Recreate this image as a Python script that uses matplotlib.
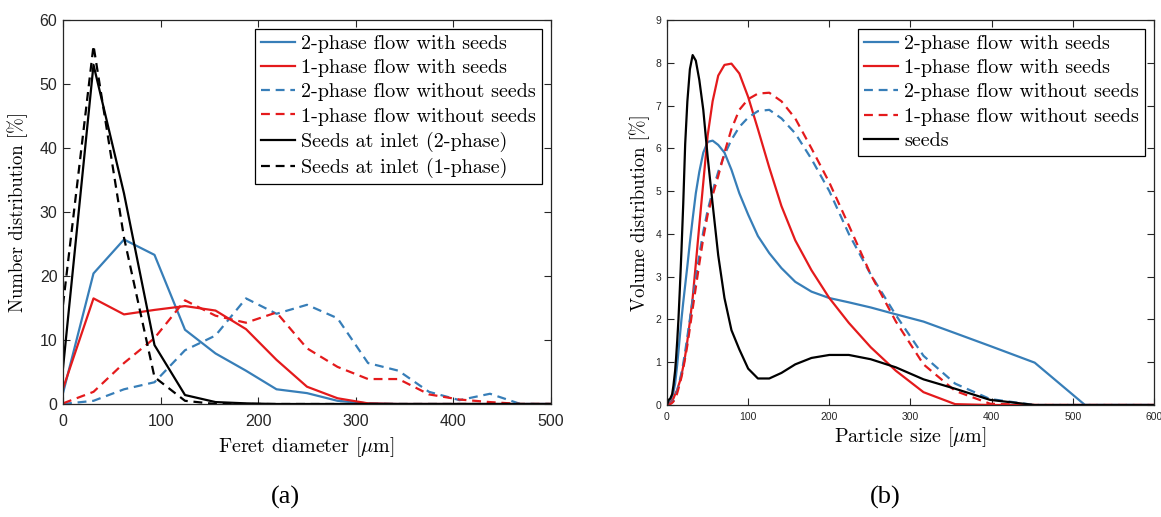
import matplotlib.pyplot as plt

plt.rcParams['font.family'] = 'cmr10'
plt.rcParams['mathtext.fontset'] = 'cm'
plt.rcParams['axes.formatter.use_mathtext'] = True

BLUE = '#377eb8'
RED = '#e41a1c'
FRAME = '#262626'

# (a) number distribution vs Feret diameter
feret_um = [0, 31.25, 62.5, 93.75, 125, 156.25, 187.5, 218.75, 250, 281.25,
            312.5, 343.75, 375, 406.25, 437.5, 468.75, 500]
num_2ph_seeds = [1.7, 20.4, 25.7, 23.3, 11.6, 7.9, 5.2, 2.3, 1.7, 0.5,
                 0.1, 0, 0, 0, 0, 0, 0]
num_1ph_seeds = [2.4, 16.5, 14.0, 14.7, 15.3, 14.6, 11.7, 6.9, 2.7, 0.9,
                 0.1, 0, 0, 0, 0, 0, 0]
num_2ph_noseeds = [0, 0.5, 2.3, 3.4, 8.4, 10.7, 16.5, 14.1, 15.5, 13.4,
                   6.4, 5.2, 1.9, 0.6, 1.6, 0, 0]
num_1ph_noseeds = [0.1, 1.9, 6.4, 10.3, 16.2, 13.8, 12.7, 14.3, 8.7, 5.8,
                   3.9, 3.9, 1.5, 0.7, 0.3, 0, 0]
num_inlet_2ph = [5.6, 53.0, 32.9, 9.2, 1.4, 0.3, 0.1, 0, 0, 0,
                 0, 0, 0, 0, 0, 0, 0]
num_inlet_1ph = [15.5, 56.0, 26.0, 4.2, 0.5, 0, 0, 0, 0, 0,
                 0, 0, 0, 0, 0, 0, 0]

# (b) volume distribution vs particle size
size_um = [0, 2.0, 4.0, 6.3, 7.9, 10.0, 11.2, 12.6, 14.1, 15.8, 17.8, 20.0,
           22.4, 25.1, 28.2, 31.6, 35.5, 39.8, 44.7, 50.1, 56.2, 63.1, 70.8,
           79.4, 89.1, 100, 112, 126, 141, 158, 178, 200, 224, 251, 282, 316,
           355, 398, 453, 515, 600]
vol_2ph_seeds = [0, 0.05, 0.1, 0.2, 0.3, 0.5, 0.7, 0.95, 1.25, 1.6, 2.0, 2.4,
                 2.8, 3.25, 3.8, 4.35, 4.95, 5.45, 5.9, 6.15, 6.18, 6.08, 5.9,
                 5.5, 4.95, 4.45, 3.95, 3.55, 3.2, 2.88, 2.65, 2.5, 2.4, 2.28,
                 2.12, 1.95, 1.68, 1.38, 0.99, 0, 0]
vol_1ph_seeds = [0, 0.02, 0.05, 0.1, 0.15, 0.25, 0.3, 0.35, 0.45, 0.55, 0.7,
                 0.9, 1.15, 1.5, 1.95, 2.5, 3.3, 4.2, 5.2, 6.3, 7.1, 7.7, 7.95,
                 7.98, 7.75, 7.2, 6.45, 5.55, 4.65, 3.85, 3.15, 2.5, 1.92, 1.35,
                 0.8, 0.3, 0.02, 0, 0, 0, 0]
vol_2ph_noseeds = [0, 0.01, 0.03, 0.07, 0.1, 0.2, 0.26, 0.34, 0.45, 0.58, 0.75,
                   0.97, 1.25, 1.6, 2.0, 2.45, 2.95, 3.5, 4.05, 4.55, 5.0, 5.45,
                   5.85, 6.2, 6.5, 6.72, 6.87, 6.9, 6.7, 6.35, 5.75, 5.0, 4.0,
                   3.05, 2.1, 1.15, 0.5, 0.14, 0, 0, 0]
vol_1ph_noseeds = [0, 0, 0.02, 0.05, 0.08, 0.15, 0.2, 0.28, 0.38, 0.5, 0.65,
                   0.85, 1.1, 1.4, 1.8, 2.25, 2.75, 3.3, 3.9, 4.45, 4.9, 5.35,
                   5.9, 6.45, 6.9, 7.15, 7.28, 7.3, 7.1, 6.7, 6.0, 5.2, 4.2,
                   3.05, 1.95, 0.95, 0.33, 0.03, 0, 0, 0]
vol_seeds = [0, 0.12, 0.15, 0.25, 0.45, 0.8, 1.1, 1.5, 2.0, 2.7, 3.6, 4.7,
             6.1, 7.1, 7.85, 8.18, 8.05, 7.6, 6.9, 5.8, 4.7, 3.5, 2.5, 1.75,
             1.3, 0.85, 0.62, 0.62, 0.75, 0.95, 1.1, 1.17, 1.17, 1.07, 0.88,
             0.6, 0.38, 0.12, 0, 0, 0]

W, H = 1161, 517
fig = plt.figure(figsize=(W / 100, H / 100), dpi=100)
ax1 = fig.add_axes([63 / W, 1 - 404 / H, 488 / W, 384 / H])
ax2 = fig.add_axes([667 / W, 1 - 405 / H, 487 / W, 385 / H])

lw = 1.6
dash = (4.0, 2.6)

ax1.plot(feret_um, num_2ph_seeds, color=BLUE, lw=lw, label='2-phase flow with seeds')
ax1.plot(feret_um, num_1ph_seeds, color=RED, lw=lw, label='1-phase flow with seeds')
ax1.plot(feret_um, num_2ph_noseeds, color=BLUE, lw=lw, dashes=dash, label='2-phase flow without seeds')
ax1.plot(feret_um, num_1ph_noseeds, color=RED, lw=lw, dashes=dash, label='1-phase flow without seeds')
ax1.plot(feret_um, num_inlet_2ph, color='black', lw=lw, label='Seeds at inlet (2-phase)')
ax1.plot(feret_um, num_inlet_1ph, color='black', lw=lw, dashes=dash, label='Seeds at inlet (1-phase)')

ax2.plot(size_um, vol_2ph_seeds, color=BLUE, lw=lw, label='2-phase flow with seeds')
ax2.plot(size_um, vol_1ph_seeds, color=RED, lw=lw, label='1-phase flow with seeds')
ax2.plot(size_um, vol_2ph_noseeds, color=BLUE, lw=lw, dashes=dash, label='2-phase flow without seeds')
ax2.plot(size_um, vol_1ph_noseeds, color=RED, lw=lw, dashes=dash, label='1-phase flow without seeds')
ax2.plot(size_um, vol_seeds, color='black', lw=lw, label='seeds')

ax1.set_xlim(0, 500)
ax1.set_ylim(0, 60)
ax1.set_xticks(range(0, 501, 100), labels=[str(v) for v in range(0, 501, 100)],
               fontfamily='Liberation Sans', fontsize=11.5, color=FRAME)
ax1.set_yticks(range(0, 61, 10), labels=[str(v) for v in range(0, 61, 10)],
               fontfamily='Liberation Sans', fontsize=11.5, color=FRAME)
ax1.tick_params(axis='x', pad=7)
ax1.tick_params(axis='y', pad=4)

ax2.set_xlim(0, 600)
ax2.set_ylim(0, 9)
ax2.set_xticks(range(0, 601, 100), labels=[str(v) for v in range(0, 601, 100)],
               fontfamily='Liberation Sans', fontsize=7.5, color=FRAME)
ax2.set_yticks(range(0, 10), labels=[str(v) for v in range(0, 10)],
               fontfamily='Liberation Sans', fontsize=7.5, color=FRAME)
ax2.tick_params(axis='x', pad=5)
ax2.tick_params(axis='y', pad=4)

for ax in (ax1, ax2):
    ax.tick_params(direction='in', top=True, right=True, length=5,
                   width=0.8, color=FRAME)
    for s in ax.spines.values():
        s.set_color(FRAME)
        s.set_linewidth(0.9)

ax1.set_xlabel(r'Feret diameter [$\mu$m]', fontsize=14.5)
ax1.set_ylabel('Number distribution [%]', fontsize=13.5)
ax1.xaxis.set_label_coords(0.498, -0.082)
ax1.yaxis.set_label_coords(-0.072, 0.5)

ax2.set_xlabel(r'Particle size [$\mu$m]', fontsize=14.5)
ax2.set_ylabel('Volume distribution [%]', fontsize=13.5)
ax2.xaxis.set_label_coords(0.5, -0.052)
ax2.yaxis.set_label_coords(-0.035, 0.5)

leg_kw = dict(loc='upper right', fontsize=14.5, handlelength=1.7, handletextpad=0.3,
              labelspacing=0.3, borderpad=0.3, borderaxespad=0, fancybox=False,
              framealpha=1, edgecolor='black')
l1 = ax1.legend(bbox_to_anchor=(0.9816, 0.9766), **leg_kw)
l2 = ax2.legend(bbox_to_anchor=(0.9815, 0.9766), **leg_kw)
for leg in (l1, l2):
    leg.get_frame().set_linewidth(0.9)

fig.text(285 / W, 1 - 497 / H, '(a)', fontfamily='Liberation Serif', fontsize=19,
         ha='center', va='center')
fig.text(885 / W, 1 - 497 / H, '(b)', fontfamily='Liberation Serif', fontsize=19,
         ha='center', va='center')

fig.savefig('out.png', dpi=100)
